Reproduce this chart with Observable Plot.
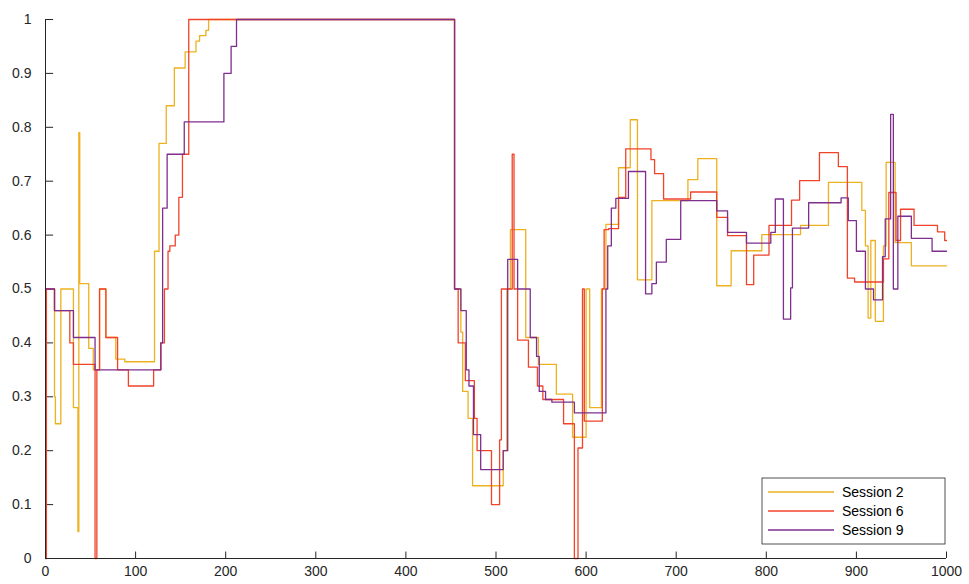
<!DOCTYPE html>
<html>
<head>
<meta charset="UTF-8">
<script src="https://cdn.jsdelivr.net/npm/d3@7"></script>
<script src="https://cdn.jsdelivr.net/npm/@observablehq/plot@0.6"></script>
<style>
  body { margin: 0; background: #fff; font-family: "Liberation Sans", Arial, sans-serif; }
</style>
</head>
<body>
<div id="chart"></div>
<script>
// step points: x where a level starts, y the level
const s2x = [0,10,11,17,31,36,37,38,48,53,60,67,78,88,121,126,134,143,155,167,171,178,181,454,461,463,469,474,508,512,516,533,547,567,585,600,604,617,622,636,649,657,673,713,724,745,761,795,838,869,906,910,913,916,921,930,933,943,961,1000];
const s2y = [0.5,0.30,0.25,0.5,0.28,0.05,0.79,0.51,0.39,0.35,0.5,0.41,0.37,0.365,0.57,0.77,0.84,0.91,0.94,0.96,0.97,0.98,1,0.5,0.42,0.31,0.26,0.135,0.2,0.5,0.61,0.41,0.36,0.305,0.225,0.5,0.28,0.5,0.62,0.725,0.814,0.517,0.664,0.703,0.742,0.506,0.571,0.601,0.618,0.698,0.646,0.58,0.446,0.59,0.44,0.58,0.735,0.586,0.543,0.543];

const s6x = [0,1,10,27,31,55,57,60,67,80,92,120,128,132,136,138,144,148,152,159,454,458,466,476,479,495,504,506,518,520,524,536,546,552,575,587,591,596,598,618,620,625,636,644,672,676,686,716,745,757,778,786,803,828,837,859,880,890,898,930,936,944,949,964,990,998,1000];
const s6y = [0,0.5,0.46,0.40,0.36,0,0.35,0.5,0.41,0.35,0.32,0.35,0.40,0.50,0.57,0.58,0.60,0.67,0.75,1,0.5,0.4,0.33,0.26,0.2,0.1,0.22,0.5,0.75,0.5,0.405,0.355,0.32,0.295,0.25,0,0.205,0.5,0.255,0.5,0.61,0.612,0.67,0.76,0.74,0.714,0.667,0.68,0.633,0.599,0.508,0.563,0.618,0.665,0.701,0.753,0.727,0.52,0.513,0.556,0.679,0.59,0.648,0.618,0.606,0.59,0.59];

const s9x = [0,10,31,55,128,130,135,154,198,206,212,454,461,467,470,475,483,508,513,524,538,545,548,555,562,587,622,624,628,633,647,666,673,678,689,705,745,757,778,805,810,819,827,829,847,883,891,900,910,919,929,932,938,941,946,961,984,1000];
const s9y = [0.5,0.46,0.41,0.35,0.40,0.65,0.75,0.81,0.90,0.95,1,0.5,0.46,0.35,0.32,0.23,0.165,0.2,0.555,0.5,0.41,0.375,0.31,0.295,0.29,0.27,0.5,0.58,0.65,0.668,0.718,0.491,0.51,0.55,0.592,0.664,0.645,0.605,0.585,0.605,0.667,0.444,0.502,0.613,0.66,0.669,0.627,0.57,0.5,0.48,0.56,0.63,0.824,0.5,0.635,0.594,0.57,0.57];

const names = ["Session 2", "Session 6", "Session 9"];
const colors = ["#EDB120", "#F0432A", "#7E2F8E"];
const xTicks = d3.range(0, 1001, 100);
const yTicks = d3.range(0, 1.001, 0.1);

const series = [[s2x, s2y], [s6x, s6y], [s9x, s9y]];
const data = series.flatMap(([xs, ys], i) => xs.map((x, j) => ({x, y: ys[j], s: names[i]})));

const chart = Plot.plot({
  width: 969,
  height: 584,
  marginLeft: 45,
  marginRight: 23,
  marginTop: 19,
  marginBottom: 26,
  style: {fontFamily: "Liberation Sans, Arial, sans-serif", fontSize: "14px", color: "#262626"},
  x: {domain: [0, 1000], label: null},
  y: {domain: [0, 1], label: null},
  color: {domain: names, range: colors},
  marks: [
    Plot.axisX({ticks: xTicks, tickSize: 0, tickPadding: 8, label: null, tickFormat: d => String(d)}),
    Plot.axisY({ticks: yTicks, tickSize: 0, tickPadding: 14, label: null, tickFormat: d => String(+d.toFixed(1))}),
    Plot.ruleX(xTicks, {y1: 0, y2: 0.012, stroke: "#262626"}),
    Plot.ruleY(yTicks, {x1: 0, x2: 9, stroke: "#262626"}),
    Plot.line(data, {x: "x", y: "y", z: "s", stroke: "s", curve: "step-after", strokeWidth: 1.3}),
    Plot.ruleY([0], {stroke: "#262626"}),
    Plot.ruleX([0], {stroke: "#262626"})
  ]
});
document.getElementById("chart").appendChild(chart);

// legend box, bottom right
const svg = d3.select(chart);
const lg = svg.append("g").attr("transform", "translate(762,478)");
lg.append("rect").attr("width", 183).attr("height", 66).attr("fill", "#fff").attr("stroke", "#262626").attr("stroke-width", 0.8);
names.forEach((n, i) => {
  const y = 14 + i * 19;
  lg.append("line").attr("x1", 6).attr("x2", 72).attr("y1", y).attr("y2", y).attr("stroke", colors[i]).attr("stroke-width", 1.3);
  lg.append("text").attr("x", 80).attr("y", y + 5).attr("font-size", 14).attr("text-anchor", "start").attr("fill", "#000").text(n);
});
</script>
</body>
</html>
